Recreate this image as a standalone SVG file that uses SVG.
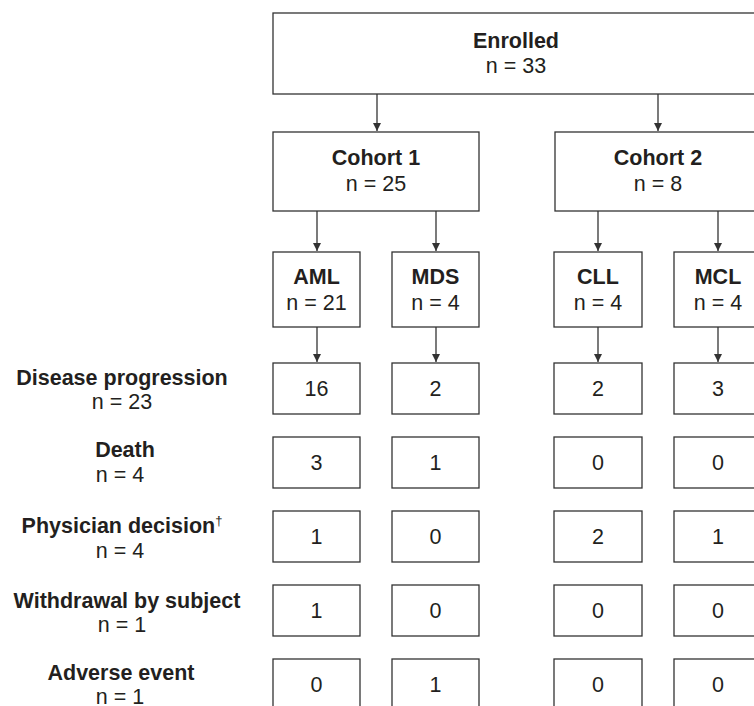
<svg xmlns="http://www.w3.org/2000/svg" width="754" height="706" viewBox="0 0 754 706">
<defs>
<marker id="ah" viewBox="0 0 8 10" refX="8" refY="5" markerWidth="8" markerHeight="10" markerUnits="userSpaceOnUse" orient="auto">
<path d="M0,1 L8,5 L0,9 Z" fill="#333"/>
</marker>
</defs>
<style>
.box{fill:#fff;stroke:#333;stroke-width:1.3}
.t{font-family:"Liberation Sans",Arial,Helvetica,sans-serif;font-size:21.5px;fill:#231f20;text-anchor:middle}
.b{font-weight:bold}
.c{stroke:#333;stroke-width:1.3;fill:none;marker-end:url(#ah)}
.sup{font-size:13px}
</style>
<rect width="754" height="706" fill="#fff"/>
<g id="connectors">
<line class="c" x1="377" y1="94" x2="377" y2="131"/>
<line class="c" x1="658" y1="94" x2="658" y2="131"/>
<line class="c" x1="317" y1="211" x2="317" y2="251"/>
<line class="c" x1="436" y1="211" x2="436" y2="251"/>
<line class="c" x1="598" y1="211" x2="598" y2="251"/>
<line class="c" x1="718" y1="211" x2="718" y2="251"/>
<line class="c" x1="317" y1="327" x2="317" y2="362"/>
<line class="c" x1="436" y1="327" x2="436" y2="362"/>
<line class="c" x1="598" y1="327" x2="598" y2="362"/>
<line class="c" x1="718" y1="327" x2="718" y2="362"/>
</g>
<g id="enrolled"><rect class="box" x="273" y="13" width="490" height="81"/><text class="t b" x="516" y="48">Enrolled</text><text class="t" x="516" y="73">n = 33</text></g>
<g id="cohort1"><rect class="box" x="273" y="132" width="206" height="79"/><text class="t b" x="376" y="165">Cohort 1</text><text class="t" x="376" y="191">n = 25</text></g>
<g id="cohort2"><rect class="box" x="555" y="132" width="206" height="79"/><text class="t b" x="658" y="165">Cohort 2</text><text class="t" x="658" y="191">n = 8</text></g>
<g id="aml"><rect class="box" x="273" y="252" width="87" height="75"/><text class="t b" x="316.5" y="284">AML</text><text class="t" x="316.5" y="310">n = 21</text></g>
<g id="mds"><rect class="box" x="392" y="252" width="87" height="75"/><text class="t b" x="435.5" y="284">MDS</text><text class="t" x="435.5" y="310">n = 4</text></g>
<g id="cll"><rect class="box" x="554" y="252" width="88" height="75"/><text class="t b" x="598" y="284">CLL</text><text class="t" x="598" y="310">n = 4</text></g>
<g id="mcl"><rect class="box" x="674" y="252" width="88" height="75"/><text class="t b" x="718" y="284">MCL</text><text class="t" x="718" y="310">n = 4</text></g>
<g id="label-progression"><text class="t b" x="122" y="385">Disease progression</text><text class="t" x="122" y="409">n = 23</text></g>
<g id="label-death"><text class="t b" x="125" y="457">Death</text><text class="t" x="120" y="482">n = 4</text></g>
<g id="label-physician"><text class="t b" x="122" y="533">Physician decision<tspan class="sup" font-weight="normal" dy="-8">†</tspan></text><text class="t" x="120" y="558">n = 4</text></g>
<g id="label-withdrawal"><text class="t b" x="127" y="608">Withdrawal by subject</text><text class="t" x="122" y="632">n = 1</text></g>
<g id="label-adverse"><text class="t b" x="121" y="680">Adverse event</text><text class="t" x="120" y="704">n = 1</text></g>
<g id="r1-aml"><rect class="box" x="273" y="363" width="87" height="51"/><text class="t" x="316.5" y="396">16</text></g>
<g id="r1-mds"><rect class="box" x="392" y="363" width="87" height="51"/><text class="t" x="435.5" y="396">2</text></g>
<g id="r1-cll"><rect class="box" x="554" y="363" width="88" height="51"/><text class="t" x="598" y="396">2</text></g>
<g id="r1-mcl"><rect class="box" x="674" y="363" width="88" height="51"/><text class="t" x="718" y="396">3</text></g>
<g id="r2-aml"><rect class="box" x="273" y="437" width="87" height="51"/><text class="t" x="316.5" y="470">3</text></g>
<g id="r2-mds"><rect class="box" x="392" y="437" width="87" height="51"/><text class="t" x="435.5" y="470">1</text></g>
<g id="r2-cll"><rect class="box" x="554" y="437" width="88" height="51"/><text class="t" x="598" y="470">0</text></g>
<g id="r2-mcl"><rect class="box" x="674" y="437" width="88" height="51"/><text class="t" x="718" y="470">0</text></g>
<g id="r3-aml"><rect class="box" x="273" y="511" width="87" height="51"/><text class="t" x="316.5" y="544">1</text></g>
<g id="r3-mds"><rect class="box" x="392" y="511" width="87" height="51"/><text class="t" x="435.5" y="544">0</text></g>
<g id="r3-cll"><rect class="box" x="554" y="511" width="88" height="51"/><text class="t" x="598" y="544">2</text></g>
<g id="r3-mcl"><rect class="box" x="674" y="511" width="88" height="51"/><text class="t" x="718" y="544">1</text></g>
<g id="r4-aml"><rect class="box" x="273" y="585" width="87" height="51"/><text class="t" x="316.5" y="618">1</text></g>
<g id="r4-mds"><rect class="box" x="392" y="585" width="87" height="51"/><text class="t" x="435.5" y="618">0</text></g>
<g id="r4-cll"><rect class="box" x="554" y="585" width="88" height="51"/><text class="t" x="598" y="618">0</text></g>
<g id="r4-mcl"><rect class="box" x="674" y="585" width="88" height="51"/><text class="t" x="718" y="618">0</text></g>
<g id="r5-aml"><rect class="box" x="273" y="659" width="87" height="51"/><text class="t" x="316.5" y="692">0</text></g>
<g id="r5-mds"><rect class="box" x="392" y="659" width="87" height="51"/><text class="t" x="435.5" y="692">1</text></g>
<g id="r5-cll"><rect class="box" x="554" y="659" width="88" height="51"/><text class="t" x="598" y="692">0</text></g>
<g id="r5-mcl"><rect class="box" x="674" y="659" width="88" height="51"/><text class="t" x="718" y="692">0</text></g>
</svg>
